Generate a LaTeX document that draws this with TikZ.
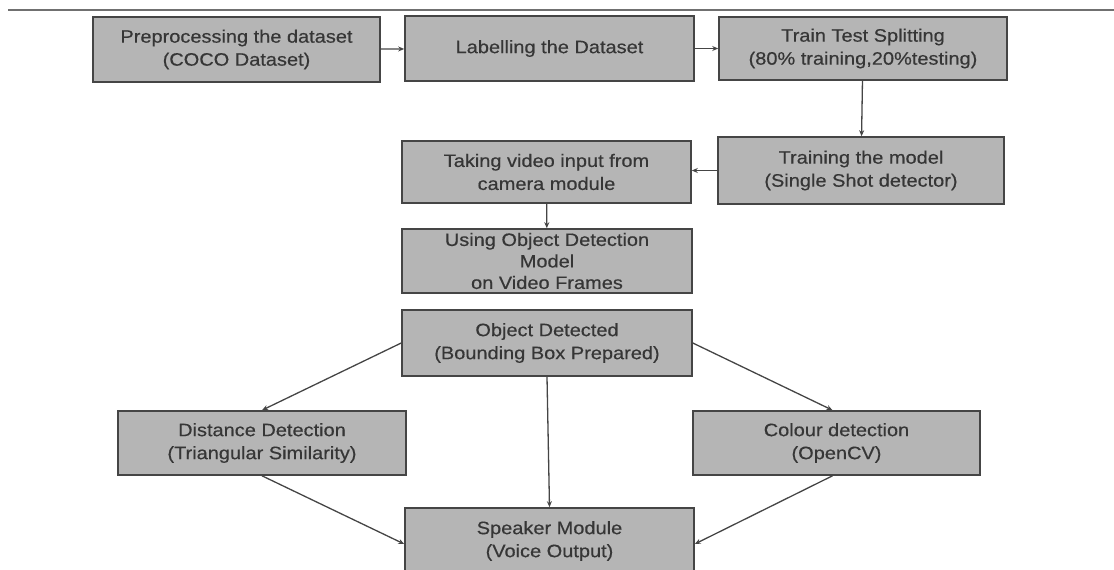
\documentclass[tikz,border=0pt]{standalone}
\usepackage{fontspec}
\setmainfont{Liberation Sans}[FakeStretch=1.11, FakeBold=0.4]
\usetikzlibrary{arrows.meta}
\definecolor{boxfill}{HTML}{B5B5B5}
\definecolor{boxline}{HTML}{454545}
\definecolor{textgray}{HTML}{363636}
\definecolor{rulegray}{HTML}{707070}
\begin{document}
\begin{tikzpicture}[x=1pt,y=-1pt,
  stepbox/.style={draw=boxline, line width=1.6pt, fill=boxfill, text=textgray,
    align=center, inner sep=0pt, minimum width=288pt, minimum height=65pt,
    font=\fontsize{18}{23}\selectfont},
  flow/.style={draw=boxline, line width=1.3pt, -{Stealth[length=6pt,width=5pt]}}]
\useasboundingbox (0,0) rectangle (1114,570);
\clip (0,0) rectangle (1114,570);

% header rule
\draw[rulegray, line width=2.4pt] (8,10) -- (1114,10);

% training pipeline
\node[stepbox, minimum width=287pt] (prep) at (236.5,49.5) {Preprocessing the dataset\\(COCO Dataset)};
\node[stepbox, minimum width=289pt] (label) at (549.5,48.5) {Labelling the Dataset};
\node[stepbox, minimum height=63pt] (split) at (863,48.5) {Train Test Splitting\\(80\% training,20\%testing)};
\node[stepbox, minimum width=286pt, minimum height=67pt] (train) at (861,170.5) {Training the model\\(Single Shot detector)};

% detection pipeline
\node[stepbox, minimum width=289pt, minimum height=62pt] (video) at (546.5,172) {Taking video input from\\camera module};
\node[stepbox, minimum width=290pt, minimum height=64pt, font=\fontsize{18}{21.5}\selectfont] (usemodel) at (547,261) {Using Object Detection\\Model\\on Video Frames};
\node[stepbox, minimum width=290pt, minimum height=66pt] (detected) at (547,343) {Object Detected\\(Bounding Box Prepared)};
\node[stepbox, minimum height=64pt] (distance) at (262,443) {Distance Detection\\(Triangular Similarity)};
\node[stepbox, minimum width=287pt, minimum height=64pt] (colour) at (836.5,443) {Colour detection\\(OpenCV)};
\node[stepbox, minimum width=289pt, minimum height=66pt] (speaker) at (549.5,541) {Speaker Module\\(Voice Output)};

% connectors
\draw[flow] (prep) -- (label);
\draw[flow] (label) -- (split);
\draw[flow] (split) -- (train);
\draw[flow] (train) -- (video.east |- train.west);
\draw[flow] (video) -- (usemodel);
\draw[flow] (detected.west) -- (distance.north);
\draw[flow] (detected.east) -- ([xshift=-4pt]colour.north);
\draw[flow] (detected.south) -- (speaker.north);
\draw[flow] (distance.south) -- ([yshift=-3pt]speaker.west);
\draw[flow] ([xshift=-4pt]colour.south) -- ([yshift=-3pt]speaker.east);
\end{tikzpicture}
\end{document}
